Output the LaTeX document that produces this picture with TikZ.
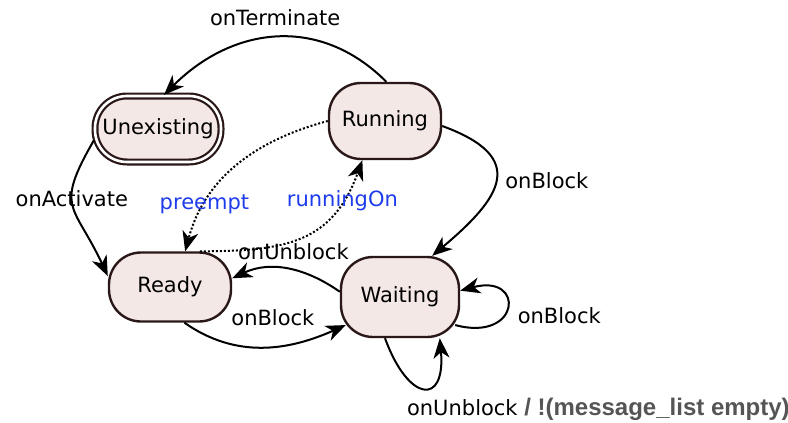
\documentclass[tikz,border=0pt]{standalone}
\usepackage{fontspec}
\setmainfont{DejaVu Sans}
\newfontfamily\guardfont{Liberation Sans}
\usetikzlibrary{arrows.meta}
\definecolor{statefill}{RGB}{243,232,230}
\definecolor{stateline}{RGB}{42,24,24}
\definecolor{evblue}{RGB}{30,60,235}
\definecolor{guardgray}{RGB}{85,85,85}

\begin{document}
\begin{tikzpicture}[x=.5pt,y=.5pt,
  every node/.style={font=\fontsize{10.5}{12}\selectfont},
  state/.style={draw=stateline,line width=1.2pt,fill=statefill,rounded corners=16pt,inner sep=2pt},
  trans/.style={line width=1pt,-{Stealth[length=10pt,width=8pt,inset=3pt]}},
  pre/.style={trans,densely dotted},
  ev/.style={text=evblue}]
  \useasboundingbox (0,0) rectangle (788,-423);
  % states
  \node[state,double,double distance=1.3pt,line width=1.1pt,minimum width=63pt,minimum height=33pt] (unex) at (158,-129) {Unexisting};
  \node[state,minimum width=56pt,minimum height=38pt] (run) at (385,-121) {Running};
  \node[state,minimum width=61pt,minimum height=34.5pt] (ready) at (170,-287) {Ready};
  \node[state,minimum width=59pt,minimum height=40pt] (wait) at (400,-297) {Waiting};
  % transitions
  \draw[trans] (run.88) to[out=135,in=45,looseness=1.1] node[midway,above=2pt]{onTerminate} (unex.80);
  \draw[trans] (unex.190) to[out=240,in=115,looseness=1.5] node[pos=.42]{onActivate} (ready.170);
  \draw[trans] (run.-5) to[out=-20,in=40,looseness=1.8] node[midway,right=1pt]{onBlock} (wait.52);
  \draw[trans] (ready.-68) to[out=-35,in=204] node[midway,above=7pt,xshift=5pt]{onBlock} ([xshift=3pt]wait.205);
  \draw[trans] (wait.175) to[out=145,in=25] node[midway,above=1pt,xshift=3pt]{onUnblock} (ready.8);
  \draw[pre] (run.west) to[out=195,in=75] node[pos=.76,ev]{preempt} (ready.67);
  \draw[pre] (ready.50) to[out=0,in=250,looseness=1.2] node[pos=.8,ev]{runningOn} (run.240);
  \draw[trans] ([xshift=-2.5pt]wait.-25) to[out=-15,in=15,looseness=5] node[pos=.4,right=3pt]{onBlock} (wait.6);
  \draw[trans] (wait.250) to[out=-70,in=-85,looseness=3.2] node[pos=.5,anchor=north west,xshift=-12pt,yshift=-1.5pt]{onUnblock {\guardfont\bfseries\fontsize{12}{12}\selectfont\color{guardgray}/ !(message\_list empty)}} (wait.-46);
\end{tikzpicture}
\end{document}
